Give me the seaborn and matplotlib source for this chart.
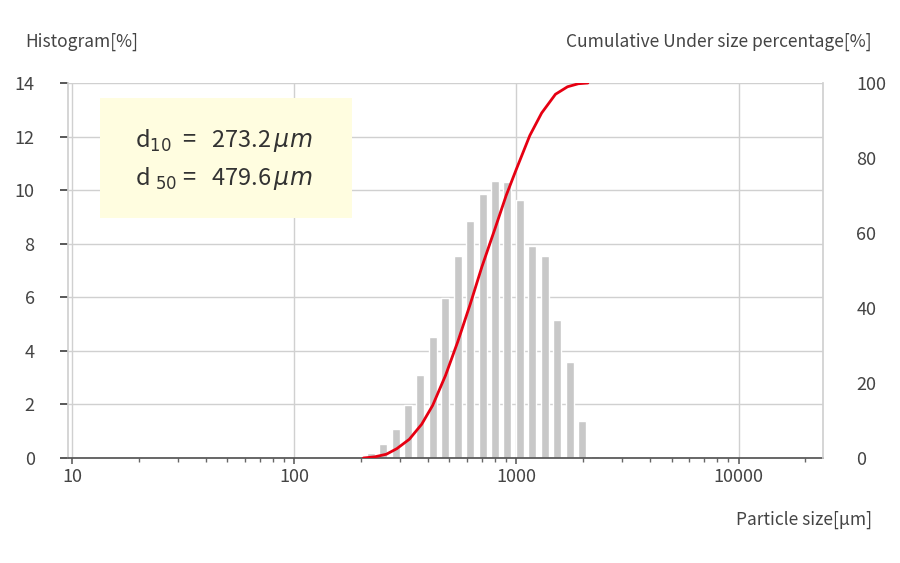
import numpy as np
import matplotlib
matplotlib.use("Agg")
import matplotlib.pyplot as plt
import seaborn as sns

sizes = [221, 252, 286, 325, 370, 421, 479, 545, 620, 705, 802, 912, 1038, 1181, 1343, 1528, 1738, 1977, 2249]
hist = [0.18, 0.52, 1.08, 1.98, 3.1, 4.5, 5.96, 7.55, 8.85, 9.86, 10.36, 10.3, 9.65, 7.9, 7.55, 5.15, 3.6, 1.4, 0.09]
cum_sizes = [205, 230, 260, 290, 330, 375, 420, 480, 545, 620, 700, 800, 900, 1000, 1150, 1300, 1500, 1700, 1900, 2100]
cum_vals = [0, 0.3, 1.0, 2.5, 5.0, 9.0, 14, 22, 31, 41, 51, 61, 70, 77, 86, 92, 97, 99, 99.8, 100]

sns.set_theme(style="white")
plt.rcParams['font.family'] = ['Noto Sans CJK JP', 'DejaVu Sans']

fig = plt.figure(figsize=(9, 5.63), dpi=100)
ax = fig.add_axes([68/900, 1-458/563, (823-68)/900, (458-83)/563])
ax.set_xscale('log')
f = 1.138 ** 0.32
s = np.array(sizes, float)
ax.bar(s / f, hist, width=s * f - s / f, align='edge', color='#c8c8c8', zorder=2)
ax.set_xlim(9.6, 24000)
ax.set_ylim(0, 14)
ax.set_yticks(range(0, 15, 2))
ax.set_xticks([10, 100, 1000, 10000])
ax.set_xticklabels(['10', '100', '1000', '10000'])
ax.grid(True, which='major', color='#d0d0d0', lw=1, zorder=0)
ax.tick_params(axis='x', which='both', bottom=True, direction='out', colors='#444444', labelsize=13)
ax.tick_params(axis='x', which='minor', length=3, color='#666666')
ax.tick_params(axis='x', which='major', length=4, color='#666666')
ax.tick_params(axis='y', left=False, labelsize=13, colors='#444444', pad=18)
for sp in ['top', 'right']:
    ax.spines[sp].set_visible(False)
ax.spines['left'].set_color('#d0d0d0')
ax.spines['bottom'].set_color('#555555')

ax2 = ax.twinx()
ax2.plot(cum_sizes, cum_vals, color='#e60012', lw=2, zorder=5)
ax2.set_ylim(0, 100)
ax2.set_yticks(range(0, 101, 20))
ax2.tick_params(axis='y', right=False, labelsize=13, colors='#444444', pad=18)
for sp in ['top', 'left', 'bottom']:
    ax2.spines[sp].set_visible(False)
ax2.spines['right'].set_color('#d0d0d0')

fig.text(25/900, 1-42/563, 'Histogram[%]', fontsize=12.5, color='#444444', va='center')
fig.text(872/900, 1-42/563, 'Cumulative Under size percentage[%]', fontsize=12.5, color='#444444', va='center', ha='right')
fig.text(872/900, 1-520/563, 'Particle size[μm]', fontsize=12.5, color='#444444', va='center', ha='right')

box = fig.add_axes([100/900, 1-218/563, 252/900, 120/563])
box.set_facecolor('#fffde0')
box.set_xticks([]); box.set_yticks([])
for sp in box.spines.values():
    sp.set_visible(False)
box.text(0.14, 0.65, 'd$_{10}$  =   273.2$\\,\\mu m$', fontsize=17, color='#333333', va='center', transform=box.transAxes)
box.text(0.14, 0.33, 'd $_{50}$ =   479.6$\\,\\mu m$', fontsize=17, color='#333333', va='center', transform=box.transAxes)

fig.savefig('out.png', dpi=100)
